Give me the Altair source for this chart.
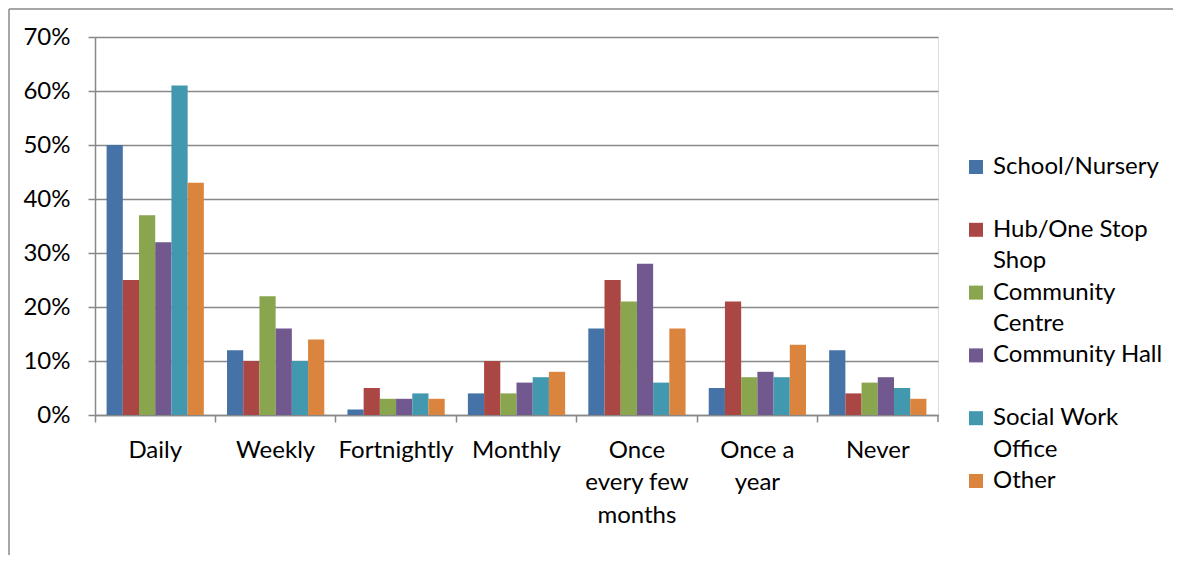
import altair as alt
import pandas as pd

categories = ["Daily", "Weekly", "Fortnightly", "Monthly",
              "Once every few months", "Once a year", "Never"]
series = ["School/Nursery", "Hub/One Stop Shop", "Community Centre",
          "Community Hall", "Social Work Office", "Other"]
colors = ["#4572A7", "#AA4643", "#89A54E", "#71588F", "#4198AF", "#DB843D"]

school = [50, 12, 1, 4, 16, 5, 12]
hub = [25, 10, 5, 10, 25, 21, 4]
centre = [37, 22, 3, 4, 21, 7, 6]
hall = [32, 16, 3, 6, 28, 8, 7]
social = [61, 10, 4, 7, 6, 7, 5]
other = [43, 14, 3, 8, 16, 13, 3]

cat_lines = {
    "Once every few months": ["Once", "every few", "months"],
    "Once a year": ["Once a", "year"],
}
leg_lines = {
    "School/Nursery": ["School/Nursery", " "],
    "Hub/One Stop Shop": ["Hub/One Stop", "Shop"],
    "Community Centre": ["Community", "Centre"],
    "Community Hall": ["Community Hall", " "],
    "Social Work Office": ["Social Work", "Office"],
    "Other": ["Other", " "],
}

rows = []
for s, vals in zip(series, [school, hub, centre, hall, social, other]):
    for c, v in zip(categories, vals):
        rows.append({"category": c, "series": s, "value": v / 100})
df = pd.DataFrame(rows)


def expr_from(mapping):
    e = "[datum.label]"
    for k, lines in mapping.items():
        arr = "[" + ",".join("'" + l + "'" for l in lines) + "]"
        e = f"datum.label == '{k}' ? {arr} : ({e})"
    return e


FONT = "Lato"
FS = 24
W, H = 843, 378

bars = alt.Chart(df).mark_bar().encode(
    x=alt.X("category:N", sort=categories,
            scale=alt.Scale(paddingInner=0, paddingOuter=0),
            axis=alt.Axis(title=None, labelAngle=0, bandPosition=0,
                          labelExpr=expr_from(cat_lines),
                          labelFontSize=FS, labelFont=FONT, labelColor="#000",
                          labelBaseline="alphabetic", labelLineHeight=32.5,
                          labelPadding=28, tickSize=7, tickColor="#888",
                          tickWidth=1.5, domainColor="#888", domainWidth=1.5,
                          labelAlign="center")),
    xOffset=alt.XOffset("series:N", sort=series,
                        scale=alt.Scale(paddingInner=0, paddingOuter=0.715)),
    y=alt.Y("value:Q", scale=alt.Scale(domain=[0, 0.7]),
            axis=alt.Axis(title=None, format=".0%",
                          values=[0, 0.1, 0.2, 0.3, 0.4, 0.5, 0.6, 0.7],
                          labelFontSize=FS, labelFont=FONT, labelColor="#000",
                          labelBaseline="alphabetic",
                          labelPadding=18, tickSize=7, tickColor="#888",
                          tickWidth=1.5, gridColor="#888", gridWidth=1.5,
                          domainColor="#888", domainWidth=1.5)),
    color=alt.Color("series:N", sort=series,
                    scale=alt.Scale(domain=series, range=colors),
                    legend=alt.Legend(title=None, orient="none",
                                      legendX=869, legendY=118,
                                      symbolType="square", symbolSize=196,
                                      symbolStrokeWidth=0,
                                      labelFontSize=FS, labelFont=FONT,
                                      labelColor="#000",
                                      labelBaseline="alphabetic",
                                      labelExpr=expr_from(leg_lines),
                                      labelLimit=300, rowPadding=6.8,
                                      labelOffset=5)),
)

end_tick = alt.Chart(pd.DataFrame({"k": [0]})).mark_rule(
    color="#888", strokeWidth=1.5).encode(
    x=alt.value(W), y=alt.value(H), y2=alt.value(H + 7))

border_top = alt.Chart(pd.DataFrame({"k": [0]})).mark_rule(
    color="#888", strokeWidth=1.5).encode(
    x=alt.value(-86), x2=alt.value(W + 240), y=alt.value(-28))
border_left = alt.Chart(pd.DataFrame({"k": [0]})).mark_rule(
    color="#888", strokeWidth=1.5).encode(
    x=alt.value(-86), y=alt.value(-28), y2=alt.value(H + 200))

chart = alt.layer(bars, end_tick, border_top, border_left).properties(
    width=W, height=H,
    padding={"left": 87, "top": 29, "right": 235, "bottom": 140},
    autosize=alt.AutoSizeParams(type="none"),
).configure_view(stroke=None).configure(
    background="white",
    style={"guide-label": {"lineHeight": 31.5, "dy": 7}},
)

chart.save("out.html", embed_options={"renderer": "svg", "actions": False})
